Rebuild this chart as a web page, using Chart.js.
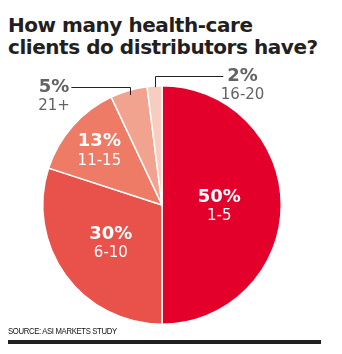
<!DOCTYPE html>
<html>
<head>
<meta charset="utf-8">
<script src="https://cdn.jsdelivr.net/npm/chart.js@4"></script>
<style>
  html, body { margin: 0; padding: 0; background: #fff; }
  #wrap { position: relative; width: 342px; height: 354px; overflow: hidden; }
  #title { position: absolute; left: 8px; top: 14px; margin: 0; font-family: "DejaVu Sans", sans-serif; font-weight: 700; font-size: 20px; line-height: 22px; color: #231f20; letter-spacing: -0.45px; white-space: nowrap; }
  #src { position: absolute; left: 8px; top: 326px; font-family: "Liberation Sans Narrow", "Liberation Sans", sans-serif; font-size: 9px; color: #111; letter-spacing: -0.4px; transform: scaleX(0.86); transform-origin: left top; white-space: nowrap; }
  #bar { position: absolute; left: 8px; top: 340px; width: 313px; height: 4px; background: #231f20; }
  canvas { position: absolute; left: 0; top: 0; }
</style>
</head>
<body>
<div id="wrap">
  <h1 id="title">How many health-care<br>clients do distributors have?</h1>
  <canvas id="c" width="342" height="354"></canvas>
  <div id="src">SOURCE: ASI MARKETS STUDY</div>
  <div id="bar"></div>
</div>
<script>
const categories = ["1-5", "6-10", "11-15", "21+", "16-20"];
const shares = [50, 30, 13, 5, 2];
const colors = ["#e3002b", "#e8524a", "#ee7b66", "#f2a38f", "#f7cdbf"];

// label placement: inside (radius fraction) or outside with a leader line
const labelStyle = [
  { inside: true, r: 0.48 },
  { inside: true, r: 0.53 },
  { inside: true, r: 0.70 },
  { inside: false, r: 0.96, dx: -76, dy: -8, side: "left" },
  { inside: false, r: 0.99, dx: 88, dy: -11, side: "right" }
];

const labelPlugin = {
  id: "pieLabels",
  afterDatasetsDraw(chart) {
    const ctx = chart.ctx;
    const meta = chart.getDatasetMeta(0);
    meta.data.forEach((arc, i) => {
      const p = arc.getProps(["x", "y", "startAngle", "endAngle", "outerRadius"], true);
      const mid = (p.startAngle + p.endAngle) / 2;
      const st = labelStyle[i];
      const pct = shares[i] + "%";
      const cat = categories[i];
      ctx.save();
      if (st.inside) {
        const cx = p.x + Math.cos(mid) * p.outerRadius * st.r;
        const cy = p.y + Math.sin(mid) * p.outerRadius * st.r;
        ctx.fillStyle = "#ffffff";
        ctx.textAlign = "center";
        ctx.textBaseline = "middle";
        ctx.font = "700 18px 'DejaVu Sans'";
        ctx.fillText(pct, cx, cy - 8);
        ctx.font = "400 15px 'DejaVu Sans'";
        ctx.fillText(cat, cx, cy + 11);
      } else {
        const ax = p.x + Math.cos(mid) * p.outerRadius * st.r;
        const ay = p.y + Math.sin(mid) * p.outerRadius * st.r;
        const ly = ay + st.dy;
        const lx = ax + st.dx; // label centre x
        ctx.font = "700 18px 'DejaVu Sans'";
        const w = ctx.measureText(pct).width;
        ctx.strokeStyle = "#222";
        ctx.lineWidth = 1;
        ctx.beginPath();
        const endX = st.side === "left" ? lx + w / 2 + 2 : lx - w / 2 - 4;
        ctx.moveTo(Math.round(ax) + 0.5, ay);
        ctx.lineTo(Math.round(ax) + 0.5, Math.round(ly) + 0.5);
        ctx.lineTo(endX, Math.round(ly) + 0.5);
        ctx.stroke();
        ctx.fillStyle = "#636363";
        ctx.textAlign = "center";
        ctx.textBaseline = "middle";
        ctx.fillText(pct, lx, ly);
        ctx.font = "400 15px 'DejaVu Sans'";
        ctx.fillText(cat, lx, ly + 19);
      }
      ctx.restore();
    });
  }
};

new Chart(document.getElementById("c"), {
  type: "pie",
  data: {
    labels: categories,
    datasets: [{
      data: shares,
      backgroundColor: colors,
      borderColor: "#ffffff",
      borderWidth: 1.5
    }]
  },
  options: {
    responsive: false,
    animation: false,
    layout: { padding: { left: 42, right: 60, top: 85, bottom: 29 } },
    plugins: { legend: { display: false }, tooltip: { enabled: false }, title: { display: false } }
  },
  plugins: [labelPlugin]
});
</script>
</body>
</html>
